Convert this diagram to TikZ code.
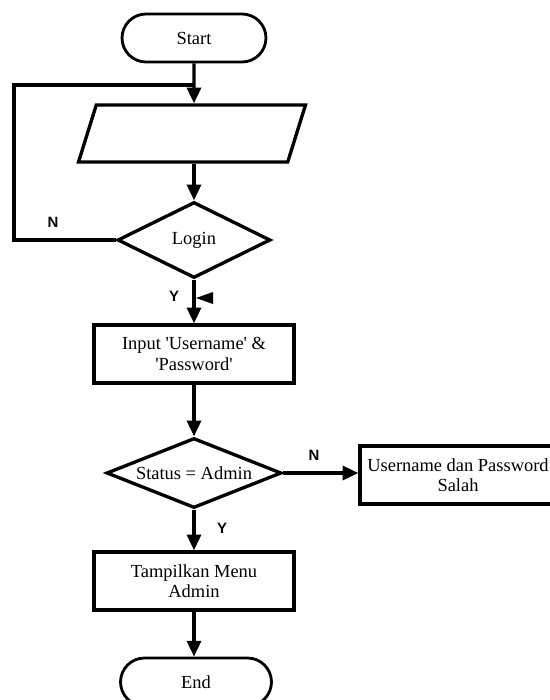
\documentclass[tikz,border=0pt]{standalone}
\usepackage{fontspec}
\setmainfont{Liberation Serif}
\newfontfamily\labelfont{Liberation Sans}
\usetikzlibrary{shapes.geometric,shapes.misc,arrows.meta}

\tikzset{
    term/.style={draw, line width=1.6pt, rounded rectangle, minimum width=2.88cm, minimum height=0.96cm, inner sep=0pt},
    io/.style={draw, line width=1.9pt, trapezium, trapezium left angle=60, trapezium right angle=120, trapezium stretches body, minimum width=4.54cm, minimum height=1.14cm, inner sep=3pt},
    decision/.style={draw, line width=1.9pt, diamond, aspect=2.5, inner sep=0pt},
    process/.style={draw, line width=1.9pt, rectangle, minimum width=4cm, minimum height=1.16cm, align=center, inner sep=0pt},
    flow/.style={line width=1.9pt, -{Triangle[length=9pt,width=8pt]}},
    yn/.style={font=\labelfont\bfseries\fontsize{8.5}{10}\selectfont}
}

\begin{document}
\begin{tikzpicture}[x=0.02cm, y=-0.02cm, font=\fontsize{10.5}{11.5}\selectfont]
    \useasboundingbox (0,0) rectangle (549,700);

    % nodes
    \node[term] (start) at (194,38) {Start};
    \node[io] (input) at (192,133.5) {\strut};
    \node[decision, minimum width=3.06cm, minimum height=1.52cm] (login) at (194,240) {Login};
    \node[process] (userpass) at (194,354) {Input \textquotesingle Username\textquotesingle\ \&\\ \textquotesingle Password\textquotesingle};
    \node[decision, minimum width=3.5cm, minimum height=1.4cm] (status) at (194,473) {Status = Admin};
    \node[process, minimum width=3.92cm] (salah) at (458,475) {Username dan Password\\ Salah};
    \node[process] (menu) at (194,581) {Tampilkan Menu\\ Admin};
    \node[term, minimum width=3.02cm] (end) at (196,682) {End};

    % connectors
    \coordinate (join) at (194,85);
    \coordinate (back) at (14,85);
    \draw[flow] (start) -- (start |- input.north);
    \draw[line width=1.9pt] (login.west) -| (back) -- (join);
    \draw[flow] (input.south -| login.north) -- (login.north);
    \draw[flow] (login.south) -- (userpass.north);
    \draw[flow] (userpass.south) -- (status.north);
    \draw[flow] (status.east) -- (salah.west |- status.east);
    \draw[flow] (status.south) -- (menu.north);
    \draw[flow] (menu.south) -- (end.north -| menu.south);

    % small marker beside Y
    \fill (213,292) -- (213,304) -- (196,298) -- cycle;

    % labels
    \node[yn] at (53,222) {N};
    \node[yn] at (174,296) {Y};
    \node[yn] at (314,455) {N};
    \node[yn] at (222,528) {Y};
\end{tikzpicture}
\end{document}
